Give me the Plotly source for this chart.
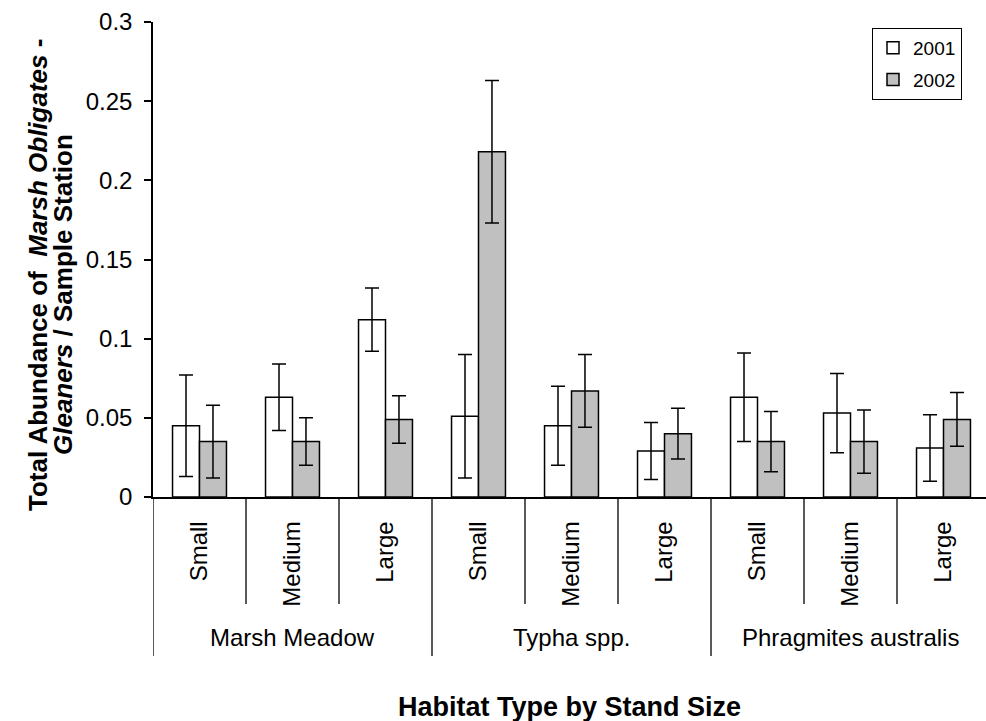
import plotly.graph_objects as go

# Habitat groups and stand sizes
habitats = ["Marsh Meadow", "Typha spp.", "Phragmites australis"]
sizes = ["Small", "Medium", "Large"]

# Mean abundance per sample station and standard errors
mean_2001 = [0.045, 0.063, 0.112, 0.051, 0.045, 0.029, 0.063, 0.053, 0.031]
err_2001 = [0.032, 0.021, 0.020, 0.039, 0.025, 0.018, 0.028, 0.025, 0.021]
mean_2002 = [0.035, 0.035, 0.049, 0.218, 0.067, 0.040, 0.035, 0.035, 0.049]
err_2002 = [0.023, 0.015, 0.015, 0.045, 0.023, 0.016, 0.019, 0.020, 0.017]

y_ticks = [0, 0.05, 0.1, 0.15, 0.2, 0.25, 0.3]
y_tick_text = ["0", "0.05", "0.1", "0.15", "0.2", "0.25", "0.3"]

categories = [(h, s) for h in habitats for s in sizes]
xpos = list(range(len(categories)))
tick_text = [s for _, s in categories]

FONT = "Liberation Sans, Arial, sans-serif"
W, H = 986, 721
plot_left, plot_top, plot_bottom = 153, 22, 497
plot_w = W - plot_left
plot_h = plot_bottom - plot_top


def paper_y(px):
    return (plot_bottom - px) / plot_h


def paper_x(px):
    return (px - plot_left) / plot_w


fig = go.Figure()
fig.add_trace(go.Bar(
    x=xpos, y=mean_2001, name="2001", legendgroup="a",
    marker=dict(color="white", line=dict(color="black", width=1.5)),
    error_y=dict(type="data", array=err_2001, color="black", thickness=1.5, width=7),
))
fig.add_trace(go.Bar(
    x=xpos, y=mean_2002, name="2002", legendgroup="b",
    marker=dict(color="#c0c0c0", line=dict(color="black", width=1.5)),
    error_y=dict(type="data", array=err_2002, color="black", thickness=1.5, width=7),
))

# category separators below the axis
shapes = []
n = len(categories)
for i in range(n + 1):
    edge = i - 0.5
    long_line = (i % 3 == 0)
    shapes.append(dict(
        type="line", xref="x", yref="paper",
        x0=edge, x1=edge, y0=0, y1=paper_y(656 if long_line else 604),
        line=dict(color="black", width=1.3),
    ))

annotations = []
for gi, h in enumerate(habitats):
    annotations.append(dict(
        x=gi * 3 + 1, y=paper_y(637), xref="x", yref="paper",
        text=h, showarrow=False, font=dict(family=FONT, size=24, color="black"),
        xanchor="center", yanchor="middle",
    ))

annotations.append(dict(
    x=0.5, y=paper_y(707), xref="paper", yref="paper",
    text="<b>Habitat Type by Stand Size</b>", showarrow=False,
    font=dict(family=FONT, size=27, color="black"),
    xanchor="center", yanchor="middle",
))

# two-line y-axis title, each line placed on its own
y_title_lines = [
    (38, 275, "<b>Total Abundance of  <i>Marsh Obligates</i> -</b>"),
    (63, 295, "<b><i>Gleaners</i> / Sample Station</b>"),
]
for xc, yc, txt in y_title_lines:
    annotations.append(dict(
        x=paper_x(xc), y=paper_y(yc), xref="paper", yref="paper",
        text=txt, showarrow=False, textangle=-90,
        font=dict(family=FONT, size=26, color="black"),
        xanchor="center", yanchor="middle",
    ))

fig.update_layout(
    width=W, height=H,
    margin=dict(l=plot_left, r=0, t=plot_top, b=H - plot_bottom, pad=0),
    plot_bgcolor="white", paper_bgcolor="white",
    barmode="group", bargap=0.42, bargroupgap=0,
    font=dict(family=FONT, size=24, color="black"),
    showlegend=True,
    legend=dict(
        x=paper_x(872), y=paper_y(28), xanchor="left", yanchor="top",
        bordercolor="black", borderwidth=1, bgcolor="white",
        font=dict(family=FONT, size=19, color="black"),
        itemwidth=30, tracegroupgap=4, traceorder="grouped",
    ),
    xaxis=dict(
        range=[-0.5, 8.457], tickvals=xpos, ticktext=tick_text,
        tickangle=-90, ticks="", showline=True, linecolor="black", linewidth=1.5,
        showgrid=False, zeroline=False, ticklabelstandoff=13,
        tickfont=dict(family=FONT, size=24, color="black"),
    ),
    yaxis=dict(
        range=[0, 0.3], tickvals=y_ticks, ticktext=y_tick_text,
        ticks="outside", ticklen=7, tickwidth=1.5, tickcolor="black",
        showline=True, linecolor="black", linewidth=1.5,
        showgrid=False, zeroline=False, ticklabelstandoff=7,
        tickfont=dict(family=FONT, size=24, color="black"),
    ),
    shapes=shapes, annotations=annotations,
)

fig.write_html("out.html")
